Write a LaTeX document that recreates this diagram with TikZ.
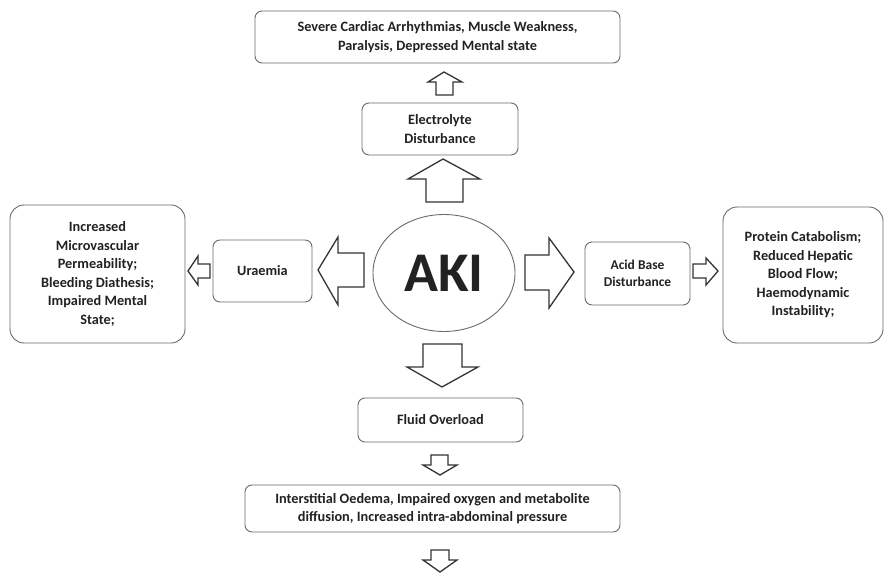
\documentclass[tikz,border=0pt]{standalone}
\usepackage{fontspec}
\setmainfont{Carlito}
\usetikzlibrary{shapes.geometric}
\definecolor{txt}{HTML}{222222}
\definecolor{boxline}{HTML}{6A6A6A}
\definecolor{arrline}{HTML}{333333}
\tikzset{
  box/.style={draw=boxline, line width=0.9pt, rounded corners=7pt, fill=white,
    align=center, text=txt, font=\bfseries\fontsize{14.3}{18.5}\selectfont,
    inner sep=0pt, outer sep=0pt},
  bigbox/.style={box, rounded corners=14pt},
  blockarrow/.style={draw=arrline, line width=1.3pt, fill=white, line join=miter},
}
\begin{document}
\begin{tikzpicture}[x=1pt,y=-1pt]
\useasboundingbox[fill=white] (0,0) rectangle (886,575);

% nodes
\node[box, minimum width=365pt, minimum height=52pt] (top) at (437.5,37)
  {Severe Cardiac Arrhythmias, Muscle Weakness,\\Paralysis, Depressed Mental state};
\node[box, minimum width=156pt, minimum height=52pt] (elec) at (440,129)
  {Electrolyte\\Disturbance};
\node[bigbox, minimum width=175pt, minimum height=138pt] (left) at (97.5,274)
  {Increased\\Microvascular\\Permeability;\\Bleeding Diathesis;\\Impaired Mental\\State;};
\node[box, minimum width=99pt, minimum height=62pt] (urae) at (262.5,271)
  {Uraemia};
\node[draw=boxline, line width=0.9pt, ellipse, minimum width=142pt, minimum height=117pt,
  inner sep=0pt, text=txt, font=\bfseries\fontsize{56}{60}\selectfont] (aki) at (444,273) {AKI};
\node[box, minimum width=105pt, minimum height=63pt, font=\bfseries\fontsize{13.5}{17}\selectfont] (acid) at (637.5,273.5)
  {Acid Base\\Disturbance};
\node[bigbox, minimum width=160pt, minimum height=136pt] (right) at (803,275)
  {Protein Catabolism;\\Reduced Hepatic\\Blood Flow;\\Haemodynamic\\Instability;};
\node[box, minimum width=165pt, minimum height=44pt] (fluid) at (440.5,420)
  {Fluid Overload};
\node[box, minimum width=375pt, minimum height=47pt] (inter) at (432.5,508.5)
  {Interstitial Oedema, Impaired oxygen and metabolite\\diffusion, Increased intra-abdominal pressure};

% block arrows
\draw[blockarrow] (443,159) -- (480,179) -- (463,179) -- (463,202) -- (426,202) -- (426,179) -- (408,179) -- cycle;
\draw[blockarrow] (444,72) -- (462,82) -- (453,82) -- (453,95) -- (436,95) -- (436,82) -- (428,82) -- cycle;
\draw[blockarrow] (318,270) -- (338,237) -- (338,253) -- (364,253) -- (364,287) -- (338,287) -- (338,305) -- cycle;
\draw[blockarrow] (188,271) -- (198,256) -- (198,264) -- (210,264) -- (210,278) -- (198,278) -- (198,285) -- cycle;
\draw[blockarrow] (574,272) -- (549,238) -- (549,255) -- (525,255) -- (525,290) -- (549,290) -- (549,308) -- cycle;
\draw[blockarrow] (718,271) -- (706,258) -- (706,264) -- (693,264) -- (693,278) -- (706,278) -- (706,285) -- cycle;
\draw[blockarrow] (442,387) -- (478,367) -- (462,367) -- (462,344) -- (423,344) -- (423,367) -- (407,367) -- cycle;
\draw[blockarrow] (440,475) -- (457,465) -- (448,465) -- (448,455) -- (431,455) -- (431,465) -- (423,465) -- cycle;
\draw[blockarrow] (440,572) -- (457,560) -- (449,560) -- (449,550) -- (431,550) -- (431,560) -- (423,560) -- cycle;
\end{tikzpicture}
\end{document}
